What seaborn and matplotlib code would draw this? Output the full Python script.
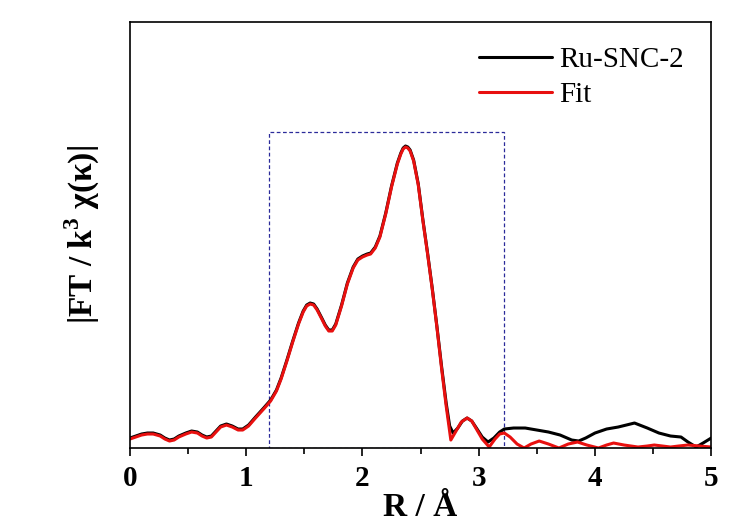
import numpy as np
import matplotlib.pyplot as plt
import seaborn as sns
import pandas as pd
from matplotlib.patches import Rectangle

# ── data (a.u.) ───────────────────────────────────────────────────
r_data = [0.00, 0.05, 0.10, 0.15, 0.20, 0.26, 0.30, 0.34, 0.38, 0.42,
          0.48, 0.53, 0.58, 0.62, 0.66, 0.70, 0.74, 0.78, 0.83, 0.88,
          0.93, 0.97, 1.02, 1.08, 1.15, 1.21, 1.26, 1.30, 1.35, 1.40,
          1.45, 1.49, 1.52, 1.55, 1.58, 1.61, 1.65, 1.68, 1.71, 1.74,
          1.77, 1.82, 1.87, 1.92, 1.96, 2.00, 2.04, 2.07, 2.11, 2.15,
          2.20, 2.25, 2.30, 2.33, 2.35, 2.37, 2.39, 2.41, 2.44, 2.48,
          2.52, 2.56, 2.60, 2.64, 2.68, 2.72, 2.75, 2.78, 2.82, 2.86,
          2.90, 2.94, 2.98, 3.03, 3.08, 3.13, 3.18, 3.22, 3.30, 3.40,
          3.50, 3.60, 3.70, 3.80, 3.86, 3.92, 4.00, 4.10, 4.20, 4.34,
          4.45, 4.55, 4.65, 4.74, 4.80, 4.87, 4.93, 5.00]
chi_data = [10, 12, 14, 15, 15, 13, 10, 8, 9, 12,
            15, 17, 16, 13, 11, 12, 17, 22, 24, 22,
            19, 19, 23, 31, 40, 48, 58, 70, 88, 107,
            125, 137, 143, 145, 144, 139, 130, 123, 118, 118,
            124, 143, 165, 181, 189, 192, 194, 195, 201, 212,
            235, 262, 285, 295, 300, 302, 301, 298, 288, 264,
            228, 195, 160, 122, 82, 45, 22, 15, 20, 27,
            30, 27, 20, 11, 6, 10, 16, 19, 20, 20,
            18, 16, 13, 8, 7, 10, 15, 19, 21, 25,
            20, 15, 12, 11, 6, 1, 5, 10]

r_fit = [0.00, 0.05, 0.10, 0.15, 0.20, 0.26, 0.30, 0.34, 0.38, 0.42,
         0.48, 0.53, 0.58, 0.62, 0.66, 0.70, 0.74, 0.78, 0.83, 0.88,
         0.93, 0.97, 1.02, 1.08, 1.15, 1.21, 1.26, 1.30, 1.35, 1.40,
         1.45, 1.49, 1.52, 1.55, 1.58, 1.61, 1.65, 1.68, 1.71, 1.74,
         1.77, 1.82, 1.87, 1.92, 1.96, 2.00, 2.04, 2.07, 2.11, 2.15,
         2.20, 2.25, 2.30, 2.33, 2.35, 2.37, 2.39, 2.41, 2.44, 2.48,
         2.52, 2.56, 2.60, 2.64, 2.68, 2.72, 2.76, 2.80, 2.85, 2.90,
         2.94, 2.98, 3.03, 3.09, 3.14, 3.18, 3.22, 3.27, 3.33, 3.39,
         3.45, 3.52, 3.60, 3.69, 3.77, 3.85, 3.93, 4.03, 4.10, 4.16,
         4.25, 4.37, 4.45, 4.51, 4.58, 4.65, 4.72, 4.80, 4.90, 5.00]
chi_fit = [9, 11, 13, 14, 14, 12, 9, 7, 8, 11,
           14, 16, 15, 12, 10, 11, 16, 21, 23, 21,
           18, 18, 22, 30, 39, 47, 57, 69, 87, 106,
           124, 136, 142, 144, 143, 138, 129, 122, 117, 117,
           123, 142, 164, 180, 188, 191, 193, 194, 200, 211,
           234, 261, 284, 294, 299, 301, 300, 297, 287, 263,
           227, 194, 159, 121, 80, 42, 8, 16, 26, 30,
           27, 19, 9, 1, 9, 14, 15, 11, 4, 0,
           4, 7, 4, 0, 4, 6, 3, 0, 3, 5,
           3, 1, 2, 3, 2, 1, 2, 3, 2, 1]

# fitting window
win_lo, win_hi, win_top = 1.2, 3.22, 316

df = pd.concat([
    pd.DataFrame({'R': r_data, 'chi': chi_data, 'series': 'Ru-SNC-2'}),
    pd.DataFrame({'R': r_fit, 'chi': chi_fit, 'series': 'Fit'}),
])

# ── style ─────────────────────────────────────────────────────────
sns.set_theme(style='ticks')
plt.rcParams['font.family'] = ['Liberation Serif', 'DejaVu Serif']
plt.rcParams['mathtext.fontset'] = 'custom'
plt.rcParams['mathtext.rm'] = 'Liberation Serif'
plt.rcParams['mathtext.bf'] = 'Liberation Serif:bold'
plt.rcParams['text.color'] = 'black'
plt.rcParams['axes.labelcolor'] = 'black'
plt.rcParams['xtick.color'] = 'black'

fig = plt.figure(figsize=(7.5, 5.24), dpi=100)
ax = fig.add_axes([0.1733, 0.145, 0.775, 0.813])

sns.lineplot(data=df, x='R', y='chi', hue='series',
             palette={'Ru-SNC-2': 'black', 'Fit': '#e8100f'},
             estimator=None, sort=False, linewidth=2.2, ax=ax)

ax.add_patch(Rectangle((win_lo, 0), win_hi - win_lo, win_top,
                       fill=False, edgecolor='#2b2b9a', linewidth=0.9,
                       linestyle=(0, (3, 2)), zorder=1))

ax.set_xlim(0, 5)
ax.set_ylim(0, 426)
ax.set_xticks([0, 1, 2, 3, 4, 5])
ax.set_xticks([0.5, 1.5, 2.5, 3.5, 4.5], minor=True)
ax.set_yticks([])
ax.tick_params(axis='x', which='major', direction='out', length=6,
               width=1.2, labelsize=21, pad=6, colors='black')
ax.tick_params(axis='x', which='minor', direction='out', length=4,
               width=1.2, colors='black')
for lbl in ax.get_xticklabels():
    lbl.set_fontweight('bold')
for sp in ax.spines.values():
    sp.set_visible(True)
    sp.set_linewidth(1.2)
    sp.set_color('black')

ax.set_xlabel('R / Å', fontsize=24, fontweight='bold', labelpad=0)
ax.set_ylabel(r'|FT / k$^{\mathbf{3}}$ χ(κ)|', fontsize=24,
              fontweight='bold', labelpad=20)

leg = ax.legend(loc='upper right', bbox_to_anchor=(0.988, 0.99),
                frameon=False, fontsize=21, handlelength=2.5,
                handletextpad=0.25, labelspacing=0.3, borderaxespad=0.3)
for txt in leg.get_texts():
    txt.set_color('black')

plt.savefig('out.png', dpi=100)
